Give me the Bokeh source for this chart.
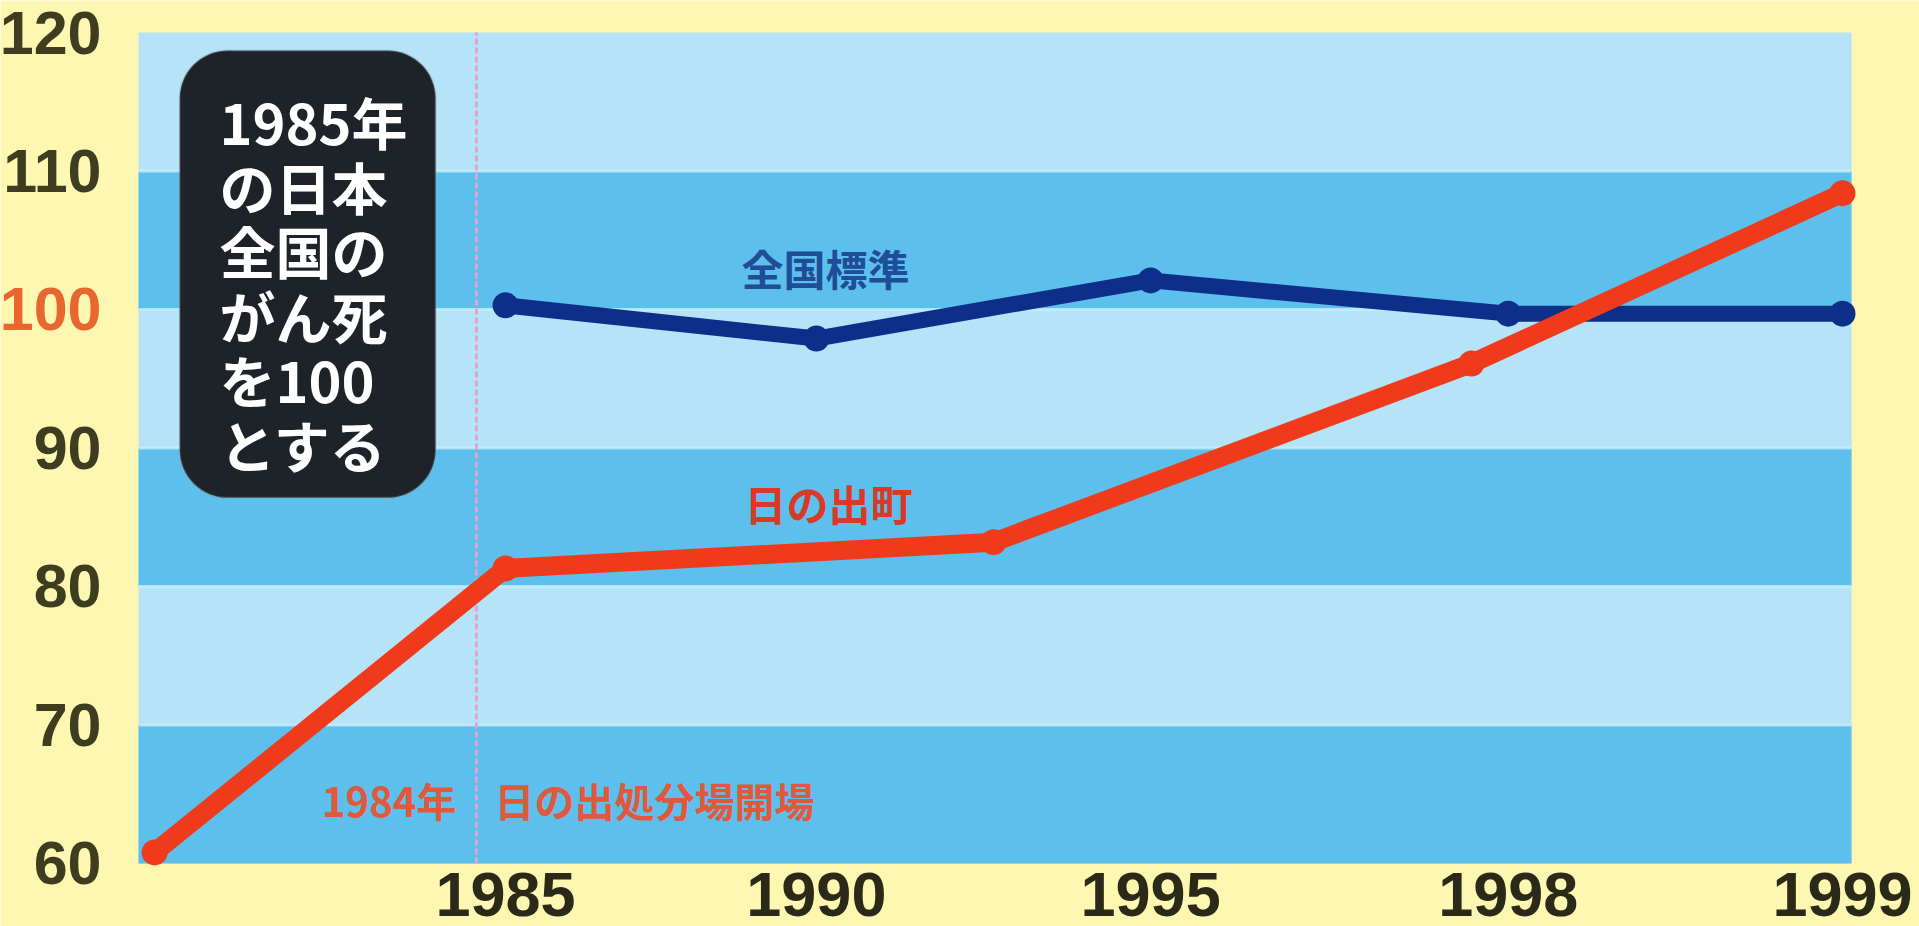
from bokeh.plotting import figure
from bokeh.models import (FixedTicker, BoxAnnotation, LabelSet, ColumnDataSource, LinearAxis,
                          Range1d)
from bokeh.core.properties import value
from bokeh.embed import file_html
from bokeh.resources import INLINE

# Horizontal axis: unevenly spaced survey years on an ordinal slot scale
tick_years = ["1985", "1990", "1995", "1998", "1999"]
tick_pos = [1.0, 1.93, 2.93, 4.0, 5.0]

# National standard (1985 national cancer deaths = 100)
national_x = [1.0, 1.93, 2.93, 4.0, 5.0]
national_y = [100.3, 97.9, 102.1, 99.7, 99.7]

# Hinode town
hinode_x = [-0.05, 1.0, 2.46, 3.89, 5.0]
hinode_y = [60.8, 81.3, 83.2, 96.1, 108.4]

# Landfill opening (1984) marker position on the slot scale
opening_x = [0.913]

y_ticks = [60, 70, 80, 90, 110, 120]
base_tick = [100]
band_bottoms = [60, 80, 100]
band_tops = [70, 90, 110]
band_edges = [70, 80, 90, 100, 110]

box_lines = ["1985年", "の日本", "全国の", "がん死", "を100", "とする"]

# chart panel extent in data units; the frame spans the whole canvas so that
# the tick-label margins around the panel are part of it
X_START, X_END = -0.098, 5.027
Y_MIN, Y_MAX = 60, 120
FRAME_X0, FRAME_X1 = -0.511, 5.2304
FRAME_Y0, FRAME_Y1 = 55.45, 122.31

YELLOW = "#fdf7b2"
LIGHT = "#b5e3f7"
DARK = "#5dbfeb"
NAVY = "#0d2f8a"
RED = "#ef3b1c"
OLIVE = "#3e3d20"
NUM_FONT = "Liberation Sans"
JP_FONT = "Noto Sans CJK JP"

p = figure(width=1919, height=926, output_backend="svg", toolbar_location=None,
           x_range=Range1d(FRAME_X0, FRAME_X1), y_range=Range1d(FRAME_Y0, FRAME_Y1),
           x_axis_location=None, y_axis_location=None,
           min_border=0, min_border_left=0, min_border_right=0,
           min_border_top=0, min_border_bottom=0,
           background_fill_color=YELLOW, border_fill_color=YELLOW, outline_line_color=None)

p.grid.visible = False

# light panel with alternating darker bands
p.quad(left=X_START, right=X_END, bottom=Y_MIN, top=Y_MAX, fill_color=LIGHT, line_color=None)
p.quad(left=X_START, right=X_END, bottom=band_bottoms, top=band_tops, fill_color=DARK, line_color=None)
# faint pale edge on each band boundary
p.segment(x0=X_START, x1=X_END, y0=band_edges, y1=band_edges,
          line_color="#c8eefc", line_width=3, line_alpha=0.8)

# 1984 landfill opening marker
p.segment(x0=opening_x, x1=opening_x, y0=Y_MIN, y1=Y_MAX,
          line_color="#e2a4cc", line_width=3, line_dash="6 3")

# series
p.line(national_x, national_y, line_color=NAVY, line_width=16, line_join="round")
p.scatter(national_x, national_y, size=26, fill_color=NAVY, line_color=None)
p.line(hinode_x, hinode_y, line_color=RED, line_width=19, line_join="round")
p.scatter(hinode_x, hinode_y, size=26, fill_color=RED, line_color=None)

# series names and note
p.text(x=[1.957], y=[103.0], text=["全国標準"], text_font=value(JP_FONT), text_font_style="bold",
       text_font_size="42px", text_color="#1f4d98", text_align="center", text_baseline="middle")
p.text(x=[1.966], y=[86.1], text=["日の出町"], text_font=value(JP_FONT), text_font_style="bold",
       text_font_size="42px", text_color="#d83a26", text_align="center", text_baseline="middle")
p.text(x=[0.853], y=[64.55], text=["1984年"], text_font=value(JP_FONT), text_font_style="bold",
       text_font_size="40px", text_color="#e2583a", text_align="right", text_baseline="middle")
p.text(x=[0.967], y=[64.55], text=["日の出処分場開場"], text_font=value(JP_FONT), text_font_style="bold",
       text_font_size="40px", text_color="#e2583a", text_align="left", text_baseline="middle")

# rounded note box
box = BoxAnnotation(left=0.025, right=0.791, bottom=86.4, top=118.7,
                    fill_color="#1d2329", fill_alpha=1.0, line_color="#8f9aa3", line_width=2,
                    border_radius=48)
p.add_layout(box)
row_step = 4.664
box_src = ColumnDataSource(dict(x=[0.144] * len(box_lines),
                                y=[113.65 - i * row_step for i in range(len(box_lines))],
                                text=box_lines))
p.add_layout(LabelSet(x="x", y="y", text="text", source=box_src,
                      text_font=value(JP_FONT), text_font_style="bold", text_font_size="56px",
                      text_color="white", text_align="left", text_baseline="middle"))


def style_axis(ax, size, color, standoff):
    ax.axis_line_color = None
    ax.major_tick_line_color = None
    ax.minor_tick_line_color = None
    ax.major_label_standoff = standoff
    ax.major_label_text_font = NUM_FONT
    ax.major_label_text_font_style = "bold"
    ax.major_label_text_font_size = size
    ax.major_label_text_color = color


# year scale pinned under the panel
xa = LinearAxis(ticker=FixedTicker(ticks=tick_pos), fixed_location=Y_MIN)
xa.major_label_overrides = {t: lab for t, lab in zip(tick_pos, tick_years)}
style_axis(xa, "63px", "#2b2a18", 4)
p.add_layout(xa, "below")

# vertical scale pinned to the left edge of the panel
ya = LinearAxis(ticker=FixedTicker(ticks=y_ticks), fixed_location=X_START)
style_axis(ya, "61px", OLIVE, 31)
p.add_layout(ya, "left")

# the base value 100 is printed in orange
base_axis = LinearAxis(ticker=FixedTicker(ticks=base_tick), fixed_location=X_START)
style_axis(base_axis, "61px", "#e8672e", 31)
p.add_layout(base_axis, "left")

open("out.html", "w").write(file_html(p, INLINE))
